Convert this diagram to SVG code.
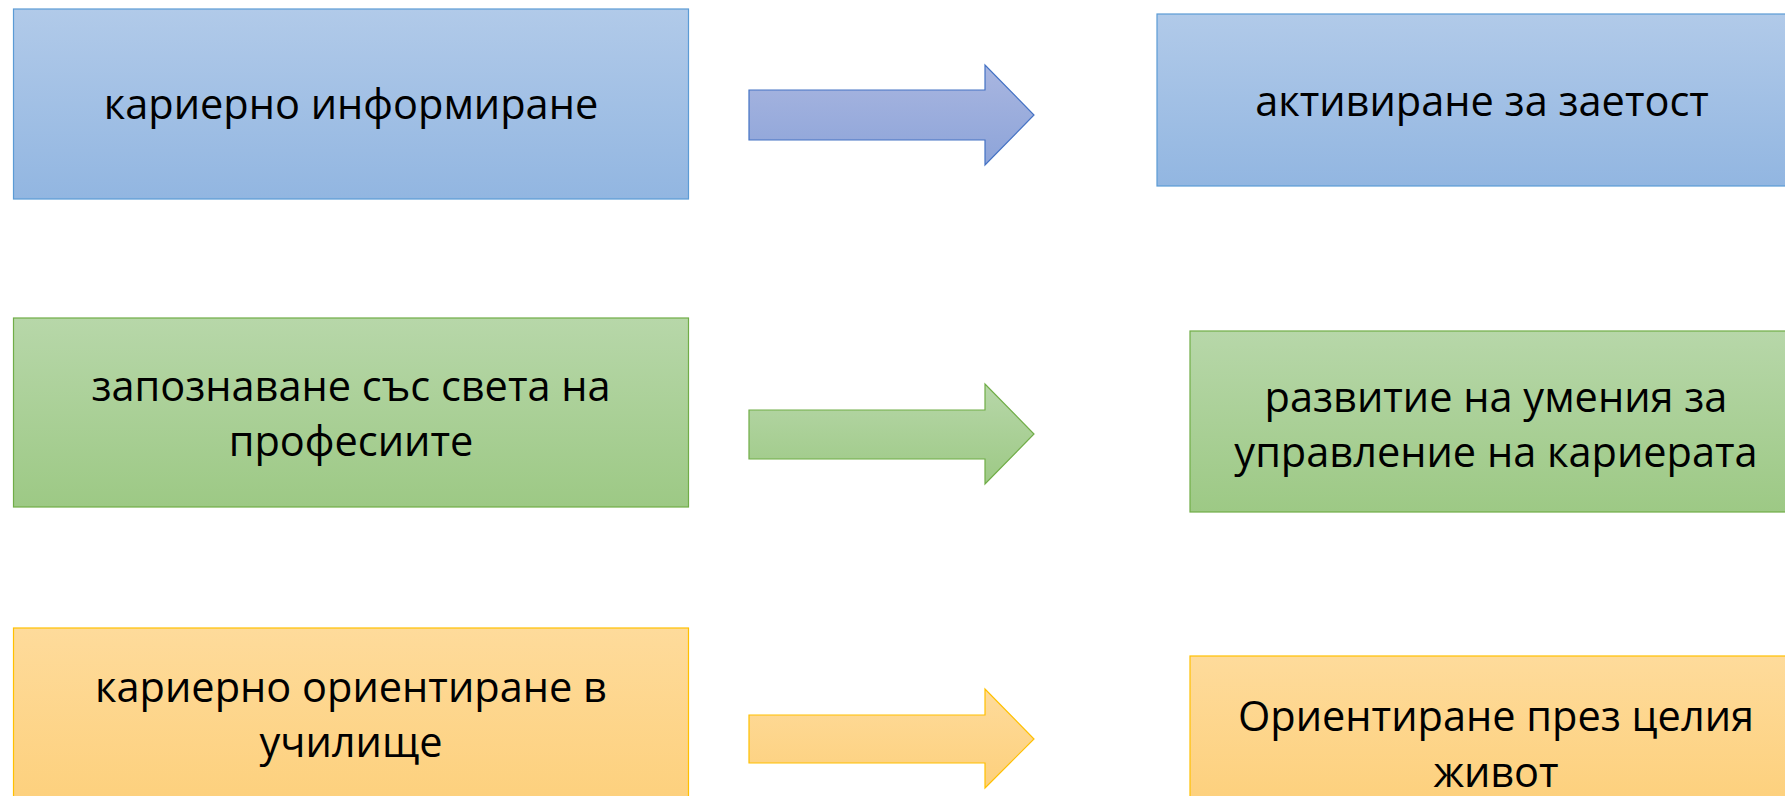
<svg xmlns="http://www.w3.org/2000/svg" width="1785" height="796" viewBox="0 0 1785 796">
<defs>
<linearGradient id="gBlue" x1="0" y1="0" x2="0" y2="1"><stop offset="0" stop-color="#b1cae9"/><stop offset="1" stop-color="#92b6e1"/></linearGradient>
<linearGradient id="gGreen" x1="0" y1="0" x2="0" y2="1"><stop offset="0" stop-color="#b7d7a9"/><stop offset="1" stop-color="#9dc985"/></linearGradient>
<linearGradient id="gOrange" x1="0" y1="0" x2="0" y2="1"><stop offset="0" stop-color="#fedb9b"/><stop offset="1" stop-color="#fdd07c"/></linearGradient>
<linearGradient id="gArrowBlue" x1="0" y1="0" x2="0" y2="1"><stop offset="0" stop-color="#a9b6e0"/><stop offset="1" stop-color="#8da4d9"/></linearGradient>
<style>
.lbl{font-family:"Open Sans","Noto Sans","DejaVu Sans",sans-serif;font-size:41.5px;fill:#000;text-anchor:middle}
.blue{fill:url(#gBlue);stroke:#5b9bd5;stroke-width:1.2}
.green{fill:url(#gGreen);stroke:#70ad47;stroke-width:1.2}
.orange{fill:url(#gOrange);stroke:#ffc000;stroke-width:1.2}
.aBlue{fill:url(#gArrowBlue);stroke:#4472c4;stroke-width:1.2}
</style>
</defs>
<g id="n1"><rect class="blue" x="13.5" y="9" width="675" height="190"/><text class="lbl" x="351" y="119">кариерно информиране</text></g>
<g id="n2"><rect class="blue" x="1157" y="14" width="660" height="172"/><text class="lbl" x="1482" y="116">активиране за заетост</text></g>
<g id="n3"><rect class="green" x="13.5" y="318" width="675" height="189"/><text class="lbl" x="351" y="401">запознаване със света на</text><text class="lbl" x="351" y="456">професиите</text></g>
<g id="n4"><rect class="green" x="1190" y="331" width="612" height="181"/><text class="lbl" x="1496" y="412">развитие на умения за</text><text class="lbl" x="1496" y="467">управление на кариерата</text></g>
<g id="n5"><rect class="orange" x="13.5" y="628" width="675" height="180"/><text class="lbl" x="351" y="702">кариерно ориентиране в</text><text class="lbl" x="351" y="757">училище</text></g>
<g id="n6"><rect class="orange" x="1190" y="656" width="612" height="150"/><text class="lbl" x="1496" y="731">Ориентиране през целия</text><text class="lbl" x="1496" y="787">живот</text></g>
<g id="connectors">
<polygon class="aBlue" points="749,90 985,90 985,65 1034,115 985,165 985,140 749,140"/>
<polygon class="green" points="749,410 985,410 985,384 1034,434 985,484 985,459 749,459"/>
<polygon class="orange" points="749,715 985,715 985,689 1034,739 985,788 985,763 749,763"/>
</g>
</svg>
